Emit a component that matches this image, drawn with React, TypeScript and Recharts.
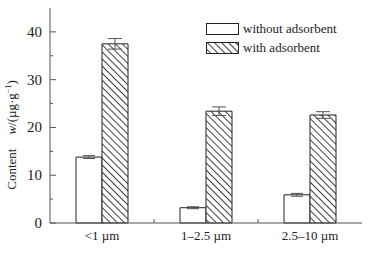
import { BarChart, Bar, XAxis, YAxis, Legend, ErrorBar } from "recharts"

const categories = ["<1 µm", "1–2.5 µm", "2.5–10 µm"]
const withoutAdsorbent = [13.8, 3.2, 5.9]
const withoutErr = [0.3, 0.2, 0.3]
const withAdsorbent = [37.5, 23.4, 22.6]
const withErr = [1.1, 0.9, 0.7]
const yTicks = [0, 5, 10, 15, 20, 25, 30, 35, 40]

const data = categories.map((c, i) => ({
  name: c,
  without: withoutAdsorbent[i],
  withoutErr: withoutErr[i],
  with: withAdsorbent[i],
  withErr: withErr[i],
}))

const FONT = "'Liberation Serif', 'Times New Roman', serif"
const AXIS = "#555"
const W = 378
const H = 256
const PLOT_LEFT = 50
const PLOT_RIGHT = 362
const band = (PLOT_RIGHT - PLOT_LEFT) / categories.length

const YTick = ({ x, y, payload }: any) => {
  const major = payload.value % 10 === 0
  return (
    <g>
      <line x1={x} x2={x + (major ? 6 : 3)} y1={y} y2={y} stroke={AXIS} />
      {major && (
        <text x={x - 8} y={y} dy={5} textAnchor="end" fontSize={15} fill="#222" fontFamily={FONT}>
          {payload.value}
        </text>
      )}
    </g>
  )
}

const XTick = ({ x, y, payload, index }: any) => (
  <g>
    {index < categories.length - 1 && (
      <line x1={x + band / 2} x2={x + band / 2} y1={y} y2={y - 4} stroke={AXIS} />
    )}
    <text x={x} y={y + 17} textAnchor="middle" fontSize={13} fill="#222" fontFamily={FONT}>
      {payload.value}
    </text>
  </g>
)

const YLabel = () => (
  <text
    transform="translate(16,135) rotate(-90)"
    textAnchor="middle"
    fontSize={13}
    fill="#222"
    fontFamily={FONT}
  >
    Content
    <tspan dx={14} fontStyle="italic">w</tspan>
    <tspan>/(µg·g</tspan>
    <tspan dy={-5} fontSize={8}>−1</tspan>
    <tspan dy={5}>)</tspan>
  </text>
)

const LegendContent = () => (
  <div style={{ fontFamily: FONT, fontSize: 13, color: "#222", lineHeight: "18.5px" }}>
    <div style={{ display: "flex", alignItems: "center" }}>
      <svg width={33} height={12} style={{ marginRight: 4 }}>
        <rect x={0.5} y={0.5} width={32} height={11} fill="#fff" stroke="#222" />
      </svg>
      without adsorbent
    </div>
    <div style={{ display: "flex", alignItems: "center" }}>
      <svg width={33} height={12} style={{ marginRight: 4 }}>
        <rect x={0.5} y={0.5} width={32} height={11} fill="url(#hatch)" stroke="#222" />
      </svg>
      with adsorbent
    </div>
  </div>
)

export default function App() {
  return (
    <div style={{ position: "fixed", left: 0, top: 0, width: W, height: H, background: "#fff" }}>
      <BarChart
        width={W}
        height={H}
        data={data}
        margin={{ top: 8, right: W - PLOT_RIGHT, bottom: 3, left: 0 }}
        barCategoryGap="25%"
        barGap={0}
      >
        <defs>
          <pattern
            id="hatch"
            patternUnits="userSpaceOnUse"
            width={5}
            height={5}
            patternTransform="rotate(-45)"
          >
            <rect width={5} height={5} fill="#fff" />
            <line x1={0} y1={0} x2={0} y2={5} stroke="#000" strokeWidth={1.5} />
          </pattern>
        </defs>
        <XAxis
          dataKey="name"
          tick={<XTick />}
          tickLine={false}
          tickSize={0}
          tickMargin={0}
          stroke={AXIS}
          interval={0}
          height={30}
        />
        <XAxis xAxisId="top" dataKey="name" orientation="top" tick={false} tickLine={false} height={0} stroke={AXIS} />
        <YAxis
          domain={[0, 45]}
          ticks={yTicks}
          tick={<YTick />}
          tickLine={false}
          tickSize={0}
          tickMargin={0}
          stroke={AXIS}
          width={PLOT_LEFT}
          label={<YLabel />}
        />
        <YAxis yAxisId="right" orientation="right" domain={[0, 45]} tick={false} tickLine={false} width={0} stroke={AXIS} />
        <Legend
          layout="vertical"
          align="center"
          verticalAlign="middle"
          content={<LegendContent />}
          wrapperStyle={{ left: 206, top: 20, width: 150 }}
        />
        <Bar dataKey="without" fill="#fff" stroke="#222" strokeWidth={1} isAnimationActive={false}>
          <ErrorBar dataKey="withoutErr" width={6} stroke="#555" strokeWidth={1} />
        </Bar>
        <Bar dataKey="with" fill="url(#hatch)" stroke="#222" strokeWidth={1} isAnimationActive={false}>
          <ErrorBar dataKey="withErr" width={7} stroke="#555" strokeWidth={1} />
        </Bar>
      </BarChart>
    </div>
  )
}
